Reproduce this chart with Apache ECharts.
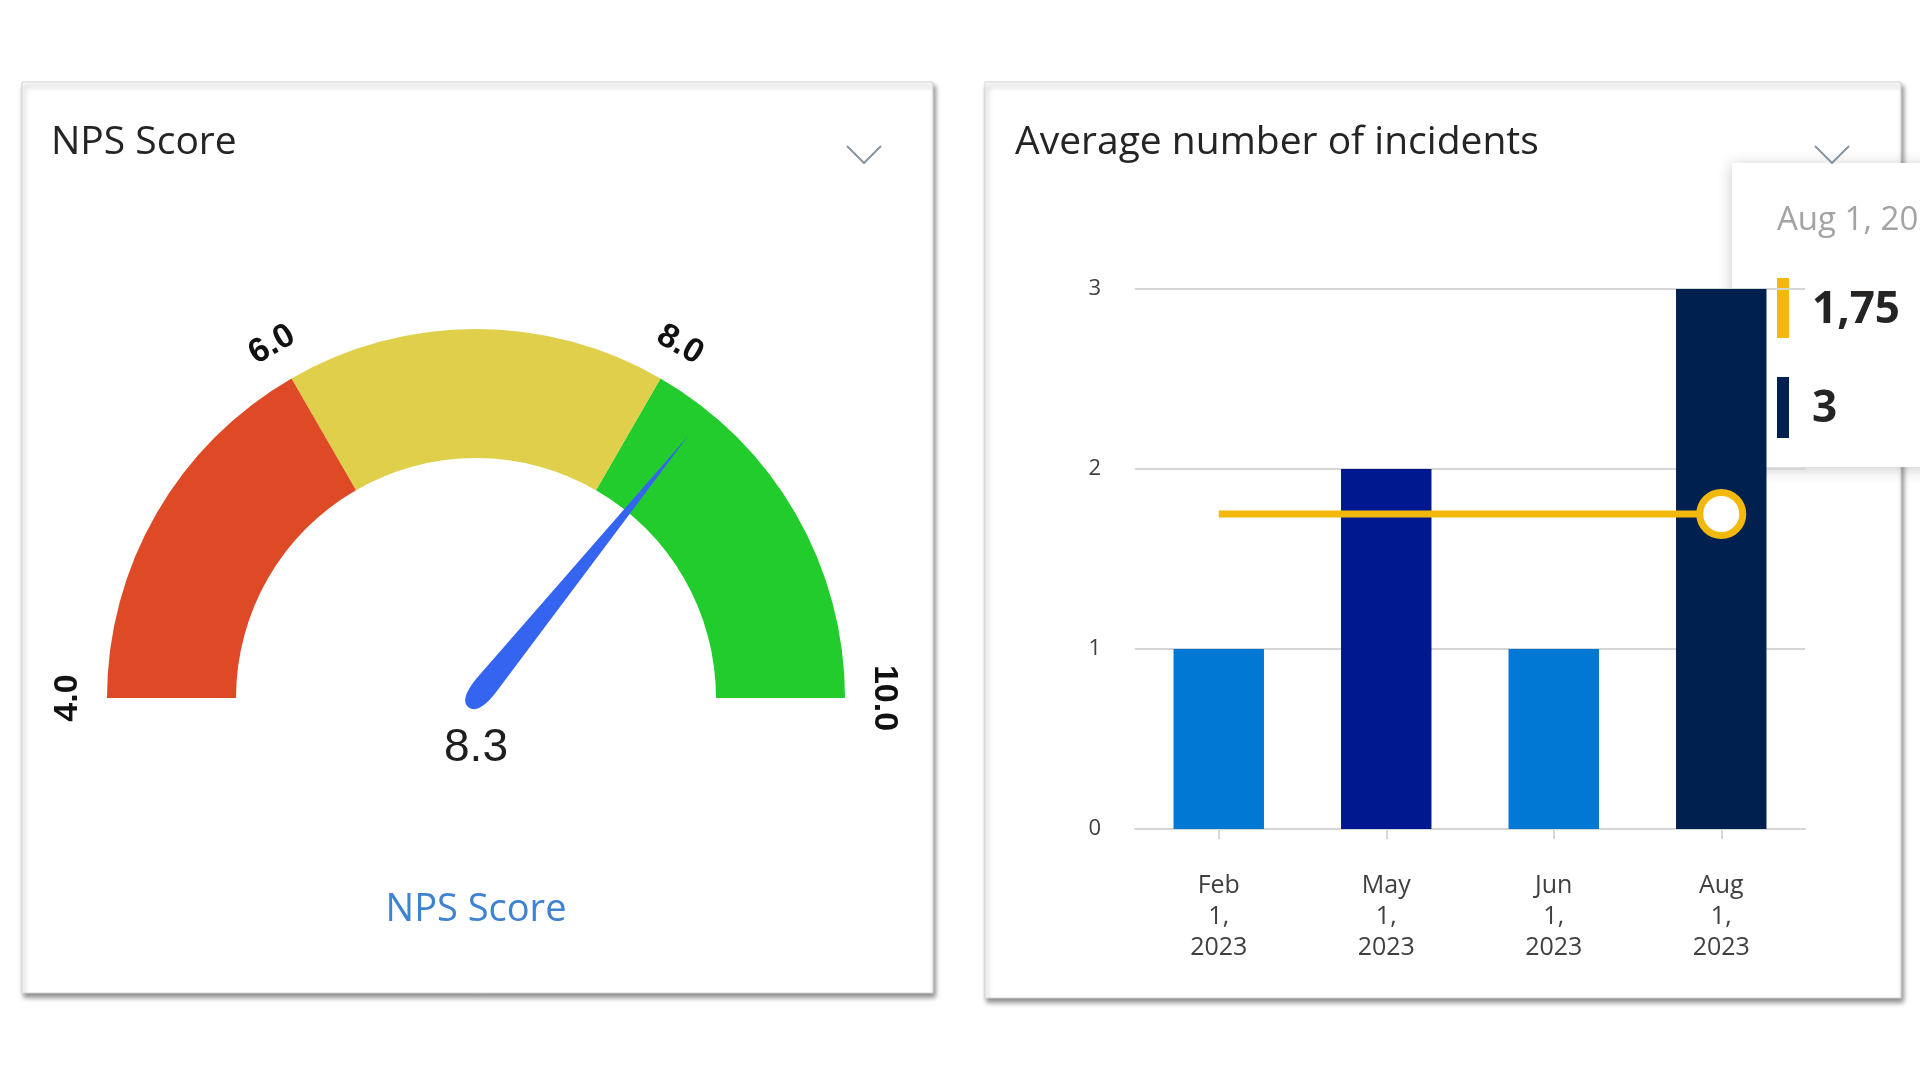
<!DOCTYPE html>
<html>
<head>
<meta charset="utf-8">
<script src="https://cdn.jsdelivr.net/npm/echarts@6/dist/echarts.min.js"></script>
<style>
  html, body { margin: 0; padding: 0; background: #fff; }
  #main { width: 1920px; height: 1076px; }
</style>
</head>
<body>
<div id="main"></div>
<script>
// gauge
const npsValue = 8.3
const npsMin = 4
const npsMax = 10
const npsBands = [6, 8, 10]
const npsBandColors = ['#DD4A25', '#E0CF4A', '#23CC2D']

// incidents
const categories = ['Feb 1, 2023', 'May 1, 2023', 'Jun 1, 2023', 'Aug 1, 2023']
const incidentValues = [1, 2, 1, 3]
const averageValues = [1.75, 1.75, 1.75, 1.75]
const barColors = ['#0078D4', '#00188F', '#0078D4', '#002050']
const yTicks = [0, 1, 2, 3]

const uiFont = '"Open Sans", "Noto Sans", sans-serif'
const numFont = '"Liberation Sans", Arial, sans-serif'

const chart = echarts.init(document.getElementById('main'))

const hoverIdx = categories.length - 1
const fmtComma = v => String(v).replace('.', ',')

const cardStyle = {
  fill: '#fff',
  stroke: '#d4d4d4',
  lineWidth: 1,
  shadowBlur: 5,
  shadowOffsetX: 2,
  shadowOffsetY: 4,
  shadowColor: 'rgba(0,0,0,0.45)'
}

const option = {
  backgroundColor: '#fff',
  animation: false,
  title: [
    {
      text: 'NPS Score',
      left: 51, top: 123, padding: 0,
      textStyle: { fontFamily: uiFont, fontSize: 39, fontWeight: 'normal', color: '#252423' }
    },
    {
      text: 'Average number of incidents',
      left: 1015, top: 123, padding: 0,
      textStyle: { fontFamily: uiFont, fontSize: 39, fontWeight: 'normal', color: '#252423' }
    }
  ],
  grid: { left: 1135, right: 115, top: 289, bottom: 247 },
  xAxis: {
    type: 'category',
    data: categories,
    axisLine: { lineStyle: { color: '#d6d6d6', width: 2 } },
    axisTick: { show: true, alignWithLabel: true, length: 10, lineStyle: { color: '#d6d6d6', width: 2 } },
    axisLabel: {
      margin: 41,
      color: '#404040',
      fontFamily: uiFont,
      fontSize: 25,
      lineHeight: 31,
      formatter: v => v.split(' ').join('\n')
    }
  },
  yAxis: {
    type: 'value',
    min: 0, max: 3, interval: 1,
    axisLine: { show: false },
    axisTick: { show: false },
    splitLine: { lineStyle: { color: '#d6d6d6', width: 2 } },
    axisLabel: {
      margin: 34,
      color: '#404040',
      fontFamily: uiFont,
      fontSize: 22,
      formatter: v => yTicks.includes(v) ? String(v) : ''
    }
  },
  series: [
    {
      type: 'gauge',
      center: [476, 698],
      radius: 369,
      startAngle: 180,
      endAngle: 0,
      min: npsMin,
      max: npsMax,
      splitNumber: 3,
      axisLine: {
        lineStyle: {
          width: 129,
          color: npsBands.map((b, i) => [(b - npsMin) / (npsMax - npsMin), npsBandColors[i]])
        }
      },
      axisTick: { show: false },
      splitLine: { show: false, length: 0, distance: 0 },
      axisLabel: {
        distance: -39,
        rotate: 'tangential',
        color: '#111',
        fontFamily: numFont,
        fontWeight: 'bold',
        fontSize: 34,
        formatter: v => v.toFixed(1)
      },
      pointer: {
        icon: 'path://M11,0 L22,320 Q22,347 11,347 Q0,347 0,320 Z',
        length: 349,
        width: 24,
        offsetCenter: [0, 12],
        itemStyle: { color: '#3565F0' }
      },
      anchor: { show: false },
      title: {
        offsetCenter: [0, 212],
        color: '#3E82D1',
        fontFamily: uiFont,
        fontSize: 38
      },
      detail: {
        offsetCenter: [0, 50],
        color: '#1e1e1e',
        fontFamily: numFont,
        fontSize: 46,
        fontWeight: 'normal',
        formatter: v => v.toFixed(1)
      },
      data: [{ value: npsValue, name: 'NPS Score' }]
    },
    {
      type: 'bar',
      barWidth: '54%',
      data: incidentValues.map((v, i) => ({ value: v, itemStyle: { color: barColors[i] } }))
    },
    {
      type: 'line',
      z: 5,
      symbol: 'none',
      lineStyle: { color: '#F2B90C', width: 7 },
      itemStyle: { color: '#fff', borderColor: '#F2B90C', borderWidth: 7 },
      data: averageValues.map((v, i) => i === hoverIdx
        ? { value: v, symbol: 'circle', symbolSize: 43 }
        : { value: v })
    }
  ],
  graphic: [
    { type: 'rect', z: -10, shape: { x: 22, y: 82, width: 911, height: 911 }, style: cardStyle },
    { type: 'rect', z: -10, shape: { x: 985, y: 82, width: 916, height: 916 }, style: cardStyle },
    {
      type: 'polyline', z: 10,
      shape: { points: [[847, 146], [864, 163], [881, 146]] },
      style: { stroke: '#8a96a3', lineWidth: 2, fill: null }
    },
    {
      type: 'polyline', z: 10,
      shape: { points: [[1815, 146], [1832, 163], [1849, 146]] },
      style: { stroke: '#8a96a3', lineWidth: 2, fill: null }
    },
    {
      type: 'group', z: 100,
      children: [
        {
          type: 'rect',
          shape: { x: 1732, y: 163, width: 260, height: 304 },
          style: { fill: '#fff', shadowBlur: 14, shadowOffsetY: 2, shadowColor: 'rgba(0,0,0,0.22)' }
        },
        {
          type: 'text', x: 1777, y: 221,
          style: {
            text: categories[hoverIdx], fill: '#a3a3a3', font: '33px ' + uiFont,
            textVerticalAlign: 'middle'
          }
        },
        { type: 'rect', shape: { x: 1777, y: 278, width: 12, height: 60 }, style: { fill: '#F2B90C' } },
        {
          type: 'text', x: 1812, y: 310,
          style: {
            text: fmtComma(averageValues[hoverIdx]), fill: '#252423',
            font: 'bold 44px ' + uiFont, textVerticalAlign: 'middle'
          }
        },
        { type: 'rect', shape: { x: 1777, y: 377, width: 12, height: 61 }, style: { fill: barColors[hoverIdx] } },
        {
          type: 'text', x: 1812, y: 409,
          style: {
            text: fmtComma(incidentValues[hoverIdx]), fill: '#252423',
            font: 'bold 44px ' + uiFont, textVerticalAlign: 'middle'
          }
        }
      ]
    }
  ]
}

chart.setOption(option)
</script>
</body>
</html>
